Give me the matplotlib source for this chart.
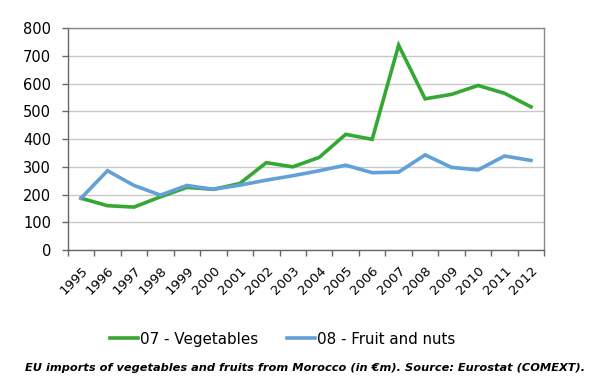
import numpy as np
import matplotlib.pyplot as plt

years = [str(y) for y in range(1995, 2013)]
vegetables = [187, 160, 155, 192, 226, 219, 240, 315, 300, 334, 417, 399, 738, 545, 561, 593, 565, 516]
fruit_nuts = [187, 286, 233, 198, 233, 219, 234, 252, 268, 286, 306, 279, 281, 343, 298, 289, 339, 323]

green = "#35a833"
blue = "#62a0d8"

fig = plt.figure(figsize=(6.0, 3.89), dpi=100)
ax = fig.add_axes([0.113, 0.357, 0.794, 0.571])

x = np.arange(len(years))
ax.plot(x, vegetables, color=green, linewidth=2.6, label="07 - Vegetables", solid_joinstyle="miter")
ax.plot(x, fruit_nuts, color=blue, linewidth=2.6, label="08 - Fruit and nuts", solid_joinstyle="miter")

ax.set_xlim(-0.5, len(years) - 0.5)
ax.set_ylim(0, 800)
ax.set_yticks(range(0, 801, 100))
ax.grid(axis="y", color="#c8c8c8", linewidth=1.0)
ax.set_axisbelow(True)

ax.set_xticks(x)
ax.set_xticklabels(years, rotation=45, ha="right", rotation_mode="anchor", fontsize=9.5)
ax.set_xticks(np.arange(-0.5, len(years)), minor=True)
ax.tick_params(axis="x", which="major", length=0, pad=10)
ax.tick_params(axis="x", which="minor", length=4, color="#666666", width=1)
ax.tick_params(axis="y", length=4, color="#666666", width=1, labelsize=10.5, pad=8)

for s in ax.spines.values():
    s.set_color("#888888")
    s.set_linewidth(1.0)
ax.spines["left"].set_color("#666666")
ax.spines["bottom"].set_color("#666666")

fig.legend(loc="center", bbox_to_anchor=(0.471, 0.1285), ncol=2, frameon=False,
           fontsize=10.9, handlelength=1.85, handletextpad=0.15, columnspacing=1.85,
           borderpad=0, borderaxespad=0)

fig.text(0.508, 0.054, "EU imports of vegetables and fruits from Morocco (in \u20acm). Source: Eurostat (COMEXT).",
         ha="center", va="center", fontsize=8.2, fontweight="bold", fontstyle="italic")

fig.savefig("out.png", dpi=100)
